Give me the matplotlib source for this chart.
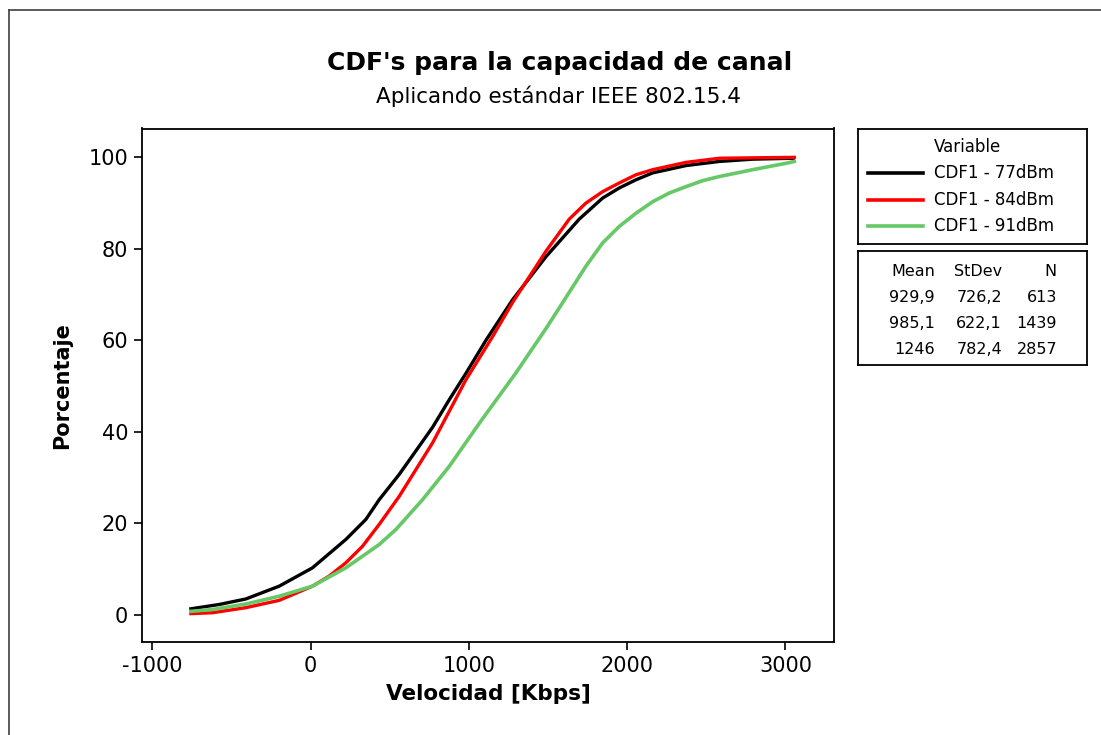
import matplotlib
matplotlib.use("Agg")
import matplotlib.pyplot as plt
from matplotlib.lines import Line2D

plt.rcParams['font.family'] = ['DejaVu Sans']
plt.rcParams['axes.unicode_minus'] = False

# ---- data ----
x_77 = [-757, -578, -410, -199, 11, 222, 349, 433, 559, 770, 875, 981, 1107, 1276,
        1487, 1697, 1845, 1950, 2056, 2161, 2372, 2582, 2793, 3050]
y_77 = [1.35, 2.3, 3.5, 6.3, 10.3, 16.5, 20.9, 25.2, 30.7, 41.0, 47.0, 52.8, 60.0, 68.9,
        78.3, 86.5, 91.1, 93.3, 95.1, 96.6, 98.2, 99.1, 99.6, 99.8]

x_84 = [-757, -620, -410, -199, 11, 117, 222, 327, 433, 559, 770, 981, 1149, 1276,
        1487, 1634, 1739, 1845, 1950, 2056, 2161, 2372, 2582, 3056]
y_84 = [0.3, 0.5, 1.6, 3.2, 6.3, 8.5, 11.4, 15.0, 19.8, 25.9, 37.6, 51.4, 60.8, 68.3,
        79.5, 86.5, 90.0, 92.5, 94.4, 96.2, 97.3, 98.9, 99.8, 100.0]

x_91 = [-757, -620, -410, -199, 11, 222, 433, 539, 707, 876, 1076, 1297, 1487, 1571,
        1739, 1845, 1950, 2056, 2161, 2266, 2372, 2477, 2582, 2793, 3004, 3056]
y_91 = [0.8, 1.2, 2.4, 4.1, 6.3, 10.3, 15.4, 18.7, 25.2, 32.5, 42.4, 52.9, 62.6, 67.1,
        76.2, 81.3, 84.9, 87.8, 90.3, 92.2, 93.6, 94.9, 95.8, 97.3, 98.7, 99.1]

series_labels = ["CDF1 - 77dBm", "CDF1 - 84dBm", "CDF1 - 91dBm"]
series_colors = ["#000000", "#FF0000", "#66C866"]
stat_header = ["Mean", "StDev", "N"]
stat_mean = ["929,9", "985,1", "1246"]
stat_std = ["726,2", "622,1", "782,4"]
stat_n = ["613", "1439", "2857"]
x_ticks = [-1000, 0, 1000, 2000, 3000]
y_ticks = [0, 20, 40, 60, 80, 100]

W, H = 1101, 735
fig = plt.figure(figsize=(W / 100, H / 100), dpi=100)

def fx(px):
    return px / W

def fy(py):
    return 1 - py / H

# outer border (top and left visible)
fig.add_artist(Line2D([fx(9), 1.0], [fy(10), fy(10)], color='#404040', lw=1.2))
fig.add_artist(Line2D([fx(9), fx(9)], [fy(10), 0.0], color='#404040', lw=1.2))

ax = fig.add_axes([fx(142), fy(642), fx(834) - fx(142), fy(128.5) - fy(642)])
for xs, ys, c, lab, lw in zip([x_77, x_84, x_91], [y_77, y_84, y_91],
                              series_colors, series_labels, [2.4, 2.4, 2.6]):
    ax.plot(xs, ys, color=c, lw=lw, label=lab)

ax.set_xlim(-1066, 3307)
ax.set_ylim(-5.9, 106.3)
ax.set_xticks(x_ticks)
ax.set_yticks(y_ticks)
ax.tick_params(direction='out', length=6, width=1.2, labelsize=15, pad=4)
for s in ax.spines.values():
    s.set_linewidth(1.3)
ax.set_xlabel("Velocidad [Kbps]", fontsize=15.5, fontweight='bold', labelpad=6)
ax.set_ylabel("Porcentaje", fontsize=15, fontweight='bold', labelpad=12)

fig.text(fx(560), fy(63), "CDF's para la capacidad de canal", ha='center', va='center',
         fontsize=18, fontweight='bold')
fig.text(fx(558), fy(96), "Aplicando estándar IEEE 802.15.4", ha='center', va='center',
         fontsize=15.5)

# legend box
lax = fig.add_axes([fx(858), fy(244), fx(1087) - fx(858), fy(129) - fy(244)])
lax.set_xlim(858, 1087)
lax.set_ylim(244, 129)
lax.set_xticks([])
lax.set_yticks([])
for s in lax.spines.values():
    s.set_linewidth(1.3)
lax.text(934, 147, "Variable", fontsize=12, va='center', ha='left')
for ypos, c, lab in zip([173, 200, 226], series_colors, series_labels):
    lax.plot([868, 923], [ypos, ypos], color=c, lw=2.6)
    lax.text(934, ypos, lab, fontsize=12, va='center', ha='left')

# stats box
sax = fig.add_axes([fx(858), fy(365), fx(1087) - fx(858), fy(251) - fy(365)])
sax.set_xlim(858, 1087)
sax.set_ylim(365, 251)
sax.set_xticks([])
sax.set_yticks([])
for s in sax.spines.values():
    s.set_linewidth(1.3)
col_x = [935, 1002, 1057]
for cx, h in zip(col_x, stat_header):
    sax.text(cx, 271, h, fontsize=11.5, ha='right', va='center')
for ypos, m, sd, n in zip([297, 323, 349], stat_mean, stat_std, stat_n):
    sax.text(col_x[0], ypos, m, fontsize=11.5, ha='right', va='center')
    sax.text(col_x[1], ypos, sd, fontsize=11.5, ha='right', va='center')
    sax.text(col_x[2], ypos, n, fontsize=11.5, ha='right', va='center')

fig.savefig("out.png", dpi=100)
